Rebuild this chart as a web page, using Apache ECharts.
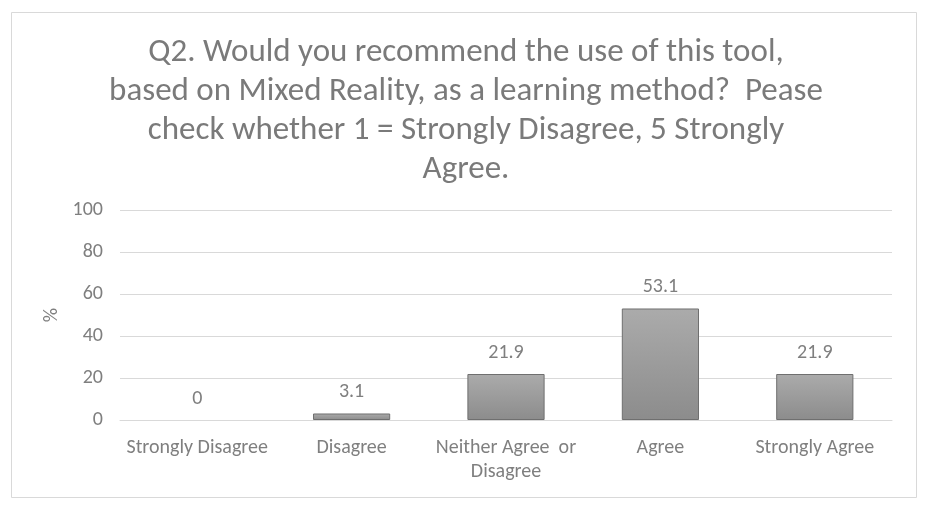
<!DOCTYPE html>
<html>
<head>
<meta charset="utf-8">
<script src="https://cdn.jsdelivr.net/npm/echarts@6/dist/echarts.min.js"></script>
<style>
  html, body { margin: 0; padding: 0; background: #fff; }
  #chart { width: 932px; height: 508px; }
</style>
</head>
<body>
<div id="chart"></div>
<script>
var categories = ['Strongly Disagree', 'Disagree', 'Neither Agree  or\nDisagree', 'Agree', 'Strongly Agree'];
var values = [0, 3.1, 21.9, 53.1, 21.9];
var yTicks = { min: 0, max: 100, interval: 20 };
var titleText = 'Q2. Would you recommend the use of this tool,\nbased on Mixed Reality, as a learning method?  Pease\ncheck whether 1 = Strongly Disagree, 5 Strongly\nAgree.';

var chart = echarts.init(document.getElementById('chart'));
var font = 'Calibri, Carlito, "Open Sans", "Noto Sans", sans-serif';

// zero bars have no visible outline in the original
var barData = values.map(function (v) {
  return v === 0 ? { value: v, itemStyle: { borderWidth: 0 } } : v;
});

var option = {
  animation: false,
  backgroundColor: '#fff',
  graphic: [{
    type: 'rect',
    shape: { x: 11.5, y: 12.5, width: 905, height: 485 },
    style: { fill: 'none', stroke: '#d9d9d9', lineWidth: 1 },
    silent: true
  }],
  title: {
    text: titleText,
    left: 'center',
    top: 28,
    textStyle: {
      fontFamily: font,
      fontSize: 33,
      fontWeight: 'normal',
      color: '#7a7a7a',
      lineHeight: 39
    }
  },
  grid: { left: 120, right: 40, top: 210, bottom: 88 },
  xAxis: {
    type: 'category',
    data: categories,
    axisTick: { show: false },
    axisLine: { lineStyle: { color: '#d9d9d9' } },
    axisLabel: {
      fontFamily: font,
      fontSize: 20,
      color: '#7f7f7f',
      margin: 16,
      lineHeight: 24,
      interval: 0
    }
  },
  yAxis: {
    type: 'value',
    min: yTicks.min,
    max: yTicks.max,
    interval: yTicks.interval,
    name: '%',
    nameLocation: 'middle',
    nameGap: 58,
    nameRotate: 90,
    nameTextStyle: { fontFamily: font, fontSize: 20, color: '#7f7f7f' },
    axisLine: { show: false },
    axisTick: { show: false },
    splitLine: { lineStyle: { color: '#d9d9d9' } },
    axisLabel: {
      fontFamily: font,
      fontSize: 20,
      color: '#7f7f7f',
      margin: 17
    }
  },
  series: [{
    type: 'bar',
    data: barData,
    barWidth: '50%',
    itemStyle: {
      color: new echarts.graphic.LinearGradient(0, 0, 0, 1, [
        { offset: 0, color: '#ababab' },
        { offset: 1, color: '#8c8c8c' }
      ]),
      borderColor: '#6f6f6f',
      borderWidth: 1
    },
    label: {
      show: true,
      position: 'top',
      distance: 11,
      fontFamily: font,
      fontSize: 20,
      color: '#7f7f7f'
    }
  }]
};

chart.setOption(option);
</script>
</body>
</html>
